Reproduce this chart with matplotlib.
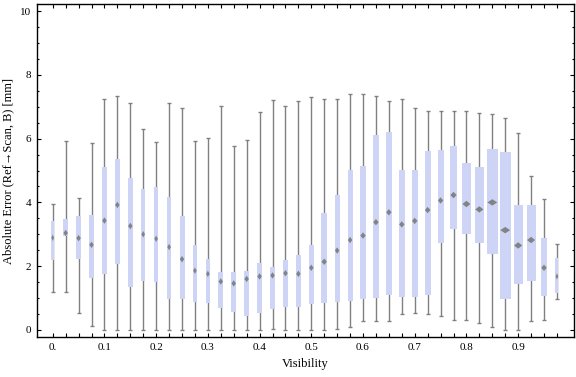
import matplotlib
matplotlib.use("Agg")
import matplotlib.pyplot as plt
from matplotlib.patches import Polygon
from matplotlib.ticker import FixedLocator, FixedFormatter

# Visibility bin centres
visibility = [i * 0.025 for i in range(40)]

whisker_low = [1.20, 1.18, 0.52, 0.11, 0.00, 0.00, 0.00, 0.00, 0.00, 0.00,
               0.00, 0.00, 0.00, 0.00, 0.00, 0.00, 0.00, 0.02, 0.00, 0.00,
               0.00, 0.00, 0.02, 0.10, 0.29, 0.27, 0.27, 0.50, 0.52, 0.50,
               0.44, 0.30, 0.30, 0.21, 0.08, 0.00, 0.00, 0.27, 0.30, 0.96]
q1 = [2.20, 2.96, 2.24, 1.64, 1.77, 2.08, 1.36, 1.55, 1.52, 0.98,
      0.98, 0.89, 0.86, 0.70, 0.56, 0.45, 0.54, 0.67, 0.73, 0.73,
      0.82, 0.86, 0.89, 0.92, 0.96, 1.01, 1.11, 1.02, 1.04, 1.11,
      2.74, 3.16, 3.02, 2.74, 2.39, 0.98, 1.45, 1.55, 1.08, 1.17]
median = [2.89, 3.04, 2.88, 2.67, 3.43, 3.92, 3.26, 3.00, 2.86, 2.60,
          2.22, 1.86, 1.76, 1.52, 1.46, 1.60, 1.68, 1.71, 1.78, 1.76,
          1.95, 2.14, 2.49, 2.82, 2.96, 3.38, 3.69, 3.31, 3.42, 3.76,
          4.06, 4.23, 3.95, 3.78, 4.00, 3.13, 2.65, 2.82, 1.95, 1.68]
q3 = [3.42, 3.47, 3.56, 3.59, 5.11, 5.36, 4.76, 4.42, 4.47, 4.17,
      3.57, 2.66, 2.23, 1.82, 1.82, 1.85, 2.09, 1.97, 2.19, 2.34,
      2.65, 3.67, 4.23, 5.02, 5.14, 6.11, 6.21, 5.02, 5.02, 5.61,
      5.64, 5.77, 5.24, 5.11, 5.67, 5.58, 3.92, 3.92, 2.88, 2.26]
whisker_high = [3.95, 5.94, 4.13, 5.85, 7.23, 7.33, 7.11, 6.29, 5.88, 7.11,
                6.95, 5.91, 6.02, 7.01, 5.77, 5.95, 6.82, 7.21, 7.01, 7.18,
                7.29, 7.25, 7.23, 7.39, 7.41, 7.33, 7.17, 7.23, 6.95, 6.85,
                6.85, 6.85, 6.85, 6.81, 6.78, 6.64, 6.17, 4.82, 4.10, 2.69]
# relative box widths (bins with more samples are wider)
box_width = [3, 5, 5, 5, 5, 5, 5, 4, 4, 4,
             5, 4, 4, 5, 5, 5, 5, 5, 5, 5,
             5, 6, 5, 5, 6, 6, 6, 6, 6, 6,
             6, 7, 9, 9, 11, 11, 9, 9, 6, 3]

x_major = [0.0, 0.1, 0.2, 0.3, 0.4, 0.5, 0.6, 0.7, 0.8, 0.9]
x_major_labels = ["0.", "0.1", "0.2", "0.3", "0.4", "0.5", "0.6", "0.7", "0.8", "0.9"]
y_major = [0, 2, 4, 6, 8, 10]

plt.rcParams['font.family'] = ['Liberation Serif', 'DejaVu Serif']

fig = plt.figure(figsize=(5.76, 3.77), dpi=100)
ax = fig.add_axes([36.7 / 576, 1 - 337 / 377, (574 - 36.7) / 576, (337 - 4) / 377])

xmin, xmax = -0.031, 1.008
ax.set_xlim(xmin, xmax)
ax.set_ylim(-0.22, 10.22)

px = (xmax - xmin) / (574 - 36.7)   # data units per pixel in x
py = 10.44 / 333.0                 # data units per pixel in y

box_color = '#cdd4f5'
line_color = '#808080'
cap_half = 2.0 * px

for xi, lo, a, m, b, hi, wpx in zip(visibility, whisker_low, q1, median, q3, whisker_high, box_width):
    w = wpx * px
    ax.vlines(xi, lo, hi, color=line_color, lw=1.0, zorder=1)
    ax.hlines([lo, hi], xi - cap_half, xi + cap_half, color=line_color, lw=1.0, zorder=1)
    ax.bar(xi, b - a, bottom=a, width=w, color=box_color, edgecolor='none', zorder=2)
    dw = max(0.45 * w, 1.0 * px)
    dh = 3.2 * py
    diamond = Polygon([[xi - dw, m], [xi, m + dh], [xi + dw, m], [xi, m - dh]],
                      closed=True, facecolor='#7a7a7a', edgecolor='none', alpha=0.9, zorder=3)
    ax.add_patch(diamond)

# ticks
ax.xaxis.set_major_locator(FixedLocator(x_major))
ax.xaxis.set_major_formatter(FixedFormatter(x_major_labels))
ax.xaxis.set_minor_locator(FixedLocator([v for v in visibility if round(v * 40) % 4 != 0]))
ax.yaxis.set_major_locator(FixedLocator(y_major))
ax.yaxis.set_minor_locator(FixedLocator([i * 0.5 for i in range(21) if i % 4 != 0]))

ax.tick_params(axis='x', which='both', direction='in', length=2.9, width=0.8,
               top=True, bottom=True, labelsize=8, pad=4, color='black')
ax.tick_params(axis='y', which='major', direction='in', length=2.9, width=0.8,
               left=True, right=True, labelsize=8, pad=4)
ax.tick_params(axis='y', which='minor', direction='in', length=1.5, width=0.8,
               left=True, right=True)

for s in ax.spines.values():
    s.set_linewidth(1.0)
    s.set_color('black')

ax.set_xlabel('Visibility', fontsize=9, labelpad=5)
ax.set_ylabel('Absolute Error (Ref\u2192Scan, B) [mm]', fontsize=9, labelpad=4)

fig.savefig('out.png', dpi=100)
